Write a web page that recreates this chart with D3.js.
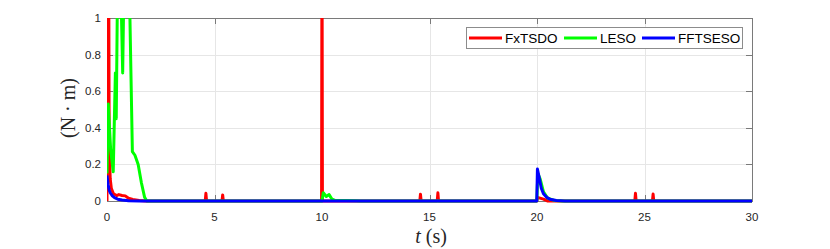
<!DOCTYPE html>
<html>
<head>
<meta charset="utf-8">
<script src="https://cdn.jsdelivr.net/npm/d3@7"></script>
<style>
  body { margin: 0; background: #fff; }
  svg { display: block; }
  .tick-label { font-family: "Liberation Sans", Arial, sans-serif; font-size: 11.5px; fill: #262626; }
  .legend-text { font-family: "Liberation Sans", Arial, sans-serif; font-size: 13.5px; fill: #000; }
  .math { font-family: "Liberation Serif", "DejaVu Serif", serif; font-size: 20px; fill: #262626; }
</style>
</head>
<body>
<div id="chart"></div>
<script>
// time (s), value (N·m)
const seriesNames = ['FxTSDO', 'LESO', 'FFTSESO'];
const seriesColors = ['#ff0000', '#00ff00', '#0000ff'];

const fxtsdo = [
    [0, 0], [0.01, 1.3], [0.08, 1.3], [0.1, 0.3], [0.15, 0.12], [0.2, 0.07], [0.3, 0.04],
    [0.45, 0.03], [0.55, 0.035], [0.7, 0.03], [0.85, 0.028], [1.0, 0.015], [1.2, 0.008],
    [1.5, 0.003], [1.8, 0],
    [4.57, 0], [4.6, 0.042], [4.63, 0],
    [5.35, 0], [5.38, 0.033], [5.41, 0],
    [9.98, 0], [10.0, 1.5], [10.02, 0],
    [14.55, 0], [14.58, 0.037], [14.61, 0],
    [15.36, 0], [15.39, 0.045], [15.42, 0],
    [19.99, 0], [20.02, 0.02], [20.3, 0.01], [20.5, 0],
    [24.55, 0], [24.58, 0.042], [24.61, 0],
    [25.37, 0], [25.4, 0.038], [25.43, 0],
    [30, 0]
];

const leso = [
    [0, 0.15], [0.06, 0.53], [0.17, 0.28], [0.29, 0.16], [0.39, 0.70], [0.43, 0.45],
    [0.50, 1.3], [0.62, 1.3], [0.73, 0.70], [0.80, 1.3], [1.02, 1.3], [1.18, 0.27],
    [1.3, 0.25], [1.45, 0.2], [1.6, 0.1], [1.75, 0.02], [1.85, 0],
    [10.0, 0], [10.06, 0.045], [10.2, 0.025], [10.33, 0.035], [10.45, 0.012], [10.6, 0.004],
    [11.6, 0.002], [11.8, 0],
    [19.99, 0], [20.04, 0.15], [20.15, 0.12], [20.3, 0.05], [20.5, 0.015], [20.8, 0.003], [21.2, 0],
    [30, 0]
];

const fftseso = [
    [0, 0.14], [0.05, 0.09], [0.1, 0.06], [0.15, 0.045], [0.25, 0.028], [0.35, 0.018],
    [0.5, 0.01], [0.7, 0.005], [1.0, 0.002], [1.5, 0],
    [19.99, 0], [20.02, 0.175], [20.1, 0.13], [20.2, 0.07], [20.3, 0.04], [20.45, 0.02],
    [20.6, 0.01], [20.9, 0.003], [21.3, 0],
    [30, 0]
];

const xTicks = [0, 5, 10, 15, 20, 25, 30];
const yTicks = [0, 0.2, 0.4, 0.6, 0.8, 1];

const allSeries = [fxtsdo, leso, fftseso];

function drawChart() {
    const width = 830, height = 249;
    const plot = { left: 107, right: 752, top: 18, bottom: 201 };

    const svg = d3.select('#chart').append('svg')
        .attr('width', width)
        .attr('height', height);

    svg.append('rect').attr('width', width).attr('height', height).attr('fill', '#fff');

    const x = d3.scaleLinear().domain([0, 30]).range([plot.left, plot.right]);
    const y = d3.scaleLinear().domain([0, 1]).range([plot.bottom, plot.top]);

    // grid
    const grid = svg.append('g').attr('stroke', '#e6e6e6').attr('stroke-width', 1);
    grid.selectAll('.gx')
        .data(xTicks.slice(1, -1))
        .join('line')
        .attr('x1', d => Math.round(x(d)) + 0.5).attr('x2', d => Math.round(x(d)) + 0.5)
        .attr('y1', plot.top).attr('y2', plot.bottom);
    grid.selectAll('.gy')
        .data(yTicks.slice(1, -1))
        .join('line')
        .attr('y1', d => Math.round(y(d)) + 0.5).attr('y2', d => Math.round(y(d)) + 0.5)
        .attr('x1', plot.left).attr('x2', plot.right);

    // axes box
    const axisColor = '#7a7a7a';
    svg.append('rect')
        .attr('x', plot.left + 0.5).attr('y', plot.top + 0.5)
        .attr('width', plot.right - plot.left).attr('height', plot.bottom - plot.top)
        .attr('fill', 'none').attr('stroke', axisColor);

    // inner ticks on all four sides
    const tickLen = 6;
    const ticks = svg.append('g').attr('stroke', axisColor);
    xTicks.forEach(t => {
        const px = Math.round(x(t)) + 0.5;
        ticks.append('line').attr('x1', px).attr('x2', px).attr('y1', plot.bottom).attr('y2', plot.bottom - tickLen);
        ticks.append('line').attr('x1', px).attr('x2', px).attr('y1', plot.top).attr('y2', plot.top + tickLen);
    });
    yTicks.forEach(t => {
        const py = Math.round(y(t)) + 0.5;
        ticks.append('line').attr('y1', py).attr('y2', py).attr('x1', plot.left).attr('x2', plot.left + tickLen);
        ticks.append('line').attr('y1', py).attr('y2', py).attr('x1', plot.right).attr('x2', plot.right - tickLen);
    });

    // tick labels
    svg.append('g').selectAll('text')
        .data(xTicks)
        .join('text')
        .attr('class', 'tick-label')
        .attr('x', d => x(d))
        .attr('y', 221)
        .attr('text-anchor', 'middle')
        .text(d => d);
    svg.append('g').selectAll('text')
        .data(yTicks)
        .join('text')
        .attr('class', 'tick-label')
        .attr('x', 101)
        .attr('y', d => y(d) + 4)
        .attr('text-anchor', 'end')
        .text(d => d);

    // clip to axes
    svg.append('clipPath').attr('id', 'clip')
        .append('rect')
        .attr('x', plot.left).attr('y', plot.top)
        .attr('width', plot.right - plot.left).attr('height', plot.bottom - plot.top + 2);

    const line = d3.line()
        .x(d => x(d[0]))
        .y(d => y(d[1]));

    svg.append('g')
        .attr('clip-path', 'url(#clip)')
        .selectAll('path')
        .data(allSeries)
        .join('path')
        .attr('d', line)
        .attr('fill', 'none')
        .attr('stroke', (d, i) => seriesColors[i])
        .attr('stroke-width', 3)
        .attr('stroke-linejoin', 'round');

    // axis titles
    const xl = svg.append('text')
        .attr('class', 'math')
        .attr('x', 431)
        .attr('y', 243)
        .attr('text-anchor', 'middle');
    xl.append('tspan').attr('font-style', 'italic').text('t');
    xl.append('tspan').text(' (s)');

    svg.append('text')
        .attr('class', 'math')
        .attr('transform', 'translate(75,108) rotate(-90)')
        .attr('text-anchor', 'middle')
        .text('(N \u00b7 m)');

    // legend
    const legend = svg.append('g');
    legend.append('rect')
        .attr('x', 466.5).attr('y', 27.5)
        .attr('width', 276).attr('height', 21)
        .attr('fill', '#fff')
        .attr('stroke', '#8c8c8c');

    const items = [
        { x1: 469, x2: 502, tx: 505 },
        { x1: 564, x2: 597, tx: 600 },
        { x1: 642, x2: 675, tx: 678 }
    ];
    items.forEach((it, i) => {
        legend.append('line')
            .attr('x1', it.x1).attr('x2', it.x2)
            .attr('y1', 38).attr('y2', 38)
            .attr('stroke', seriesColors[i])
            .attr('stroke-width', 3);
        legend.append('text')
            .attr('class', 'legend-text')
            .attr('x', it.tx)
            .attr('y', 43)
            .text(seriesNames[i]);
    });
}

drawChart();
</script>
</body>
</html>
